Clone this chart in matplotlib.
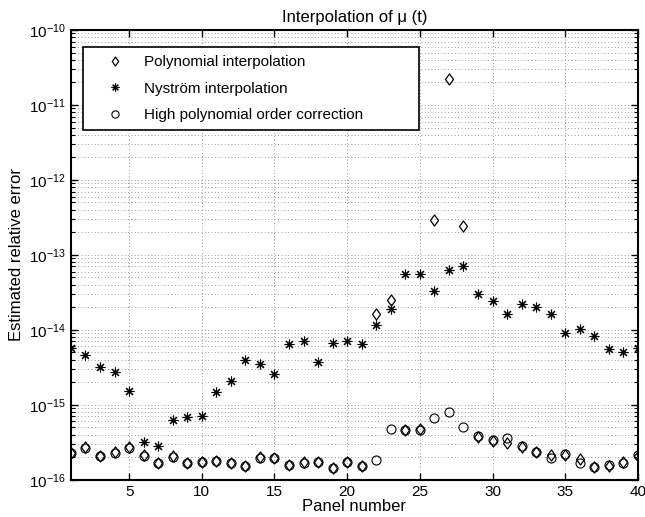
import numpy as np
import matplotlib
matplotlib.use("Agg")
import matplotlib.pyplot as plt
from matplotlib.ticker import NullFormatter, FixedLocator, LogFormatterSciNotation
from matplotlib.path import Path

plt.rcParams['font.family'] = ['Liberation Sans', 'DejaVu Sans']

panels = np.arange(1, 41)

# polynomial interpolation (diamonds)
poly = [2.3e-16, 2.7e-16, 2.1e-16, 2.35e-16, 2.7e-16, 2.15e-16, 1.65e-16, 2.05e-16,
        1.7e-16, 1.75e-16, 1.78e-16, 1.7e-16, 1.55e-16, 2.0e-16, 1.98e-16, 1.58e-16,
        1.72e-16, 1.74e-16, 1.42e-16, 1.72e-16, 1.55e-16, 1.65e-14, 2.5e-14, 4.6e-16,
        4.7e-16, 2.9e-13, 2.2e-11, 2.45e-13, 3.7e-16, 3.3e-16, 3.1e-16, 2.7e-16,
        2.35e-16, 2.15e-16, 2.15e-16, 1.9e-16, 1.48e-16, 1.55e-16, 1.75e-16, 2.1e-16]

# Nystrom interpolation (stars)
nystrom = [5.8e-15, 4.6e-15, 3.2e-15, 2.7e-15, 1.55e-15, 3.2e-16, 2.85e-16, 6.3e-16,
           6.8e-16, 7.0e-16, 1.5e-15, 2.05e-15, 4.0e-15, 3.5e-15, 2.6e-15, 6.5e-15,
           7.1e-15, 3.7e-15, 6.7e-15, 7.0e-15, 6.4e-15, 1.16e-14, 1.9e-14, 5.6e-14,
           5.5e-14, 3.3e-14, 6.2e-14, 7.1e-14, 3.0e-14, 2.4e-14, 1.63e-14, 2.2e-14,
           2.0e-14, 1.62e-14, 9.1e-15, 1.03e-14, 8.2e-15, 5.5e-15, 5.1e-15, 5.8e-15]

# high polynomial order correction (circles)
hpoc = [2.3e-16, 2.65e-16, 2.1e-16, 2.3e-16, 2.65e-16, 2.1e-16, 1.65e-16, 2.0e-16,
        1.68e-16, 1.74e-16, 1.78e-16, 1.68e-16, 1.55e-16, 1.98e-16, 1.95e-16, 1.58e-16,
        1.7e-16, 1.74e-16, 1.45e-16, 1.74e-16, 1.55e-16, 1.83e-16, 4.7e-16, 4.6e-16,
        4.6e-16, 6.6e-16, 8.1e-16, 5.1e-16, 3.8e-16, 3.4e-16, 3.6e-16, 2.8e-16,
        2.35e-16, 1.95e-16, 2.2e-16, 1.7e-16, 1.48e-16, 1.57e-16, 1.7e-16, 2.15e-16]

xticks = [5, 10, 15, 20, 25, 30, 35, 40]
decades = [1e-16, 1e-15, 1e-14, 1e-13, 1e-12, 1e-11, 1e-10]

# matlab-ish diamond, a bit narrower than it is tall
diamond = Path([(0, 1), (0.72, 0), (0, -1), (-0.72, 0), (0, 1)],
               [Path.MOVETO, Path.LINETO, Path.LINETO, Path.LINETO, Path.CLOSEPOLY])

fig = plt.figure(figsize=(6.45, 5.17), dpi=100)
ax = fig.add_axes([0.110, 0.072, 0.879, 0.870])

ax.semilogy(panels, poly, ls='none', marker=diamond, mfc='none', mec='k', ms=8,
            mew=0.9, label='Polynomial interpolation')
ax.semilogy(panels, nystrom, ls='none', marker=(8, 2, 0), color='k', ms=7, mew=0.8,
            label='Nyström interpolation')
ax.semilogy(panels, hpoc, ls='none', marker='o', mfc='none', mec='k', ms=6.5, mew=0.8,
            label='High polynomial order correction')

ax.set_xlim(1, 40)
ax.set_ylim(1e-16, 1e-10)
ax.xaxis.set_major_locator(FixedLocator(xticks))
ax.yaxis.set_major_locator(FixedLocator(decades))
ax.yaxis.set_major_formatter(LogFormatterSciNotation())
minor = [m * d for d in decades[:-1] for m in range(2, 10)]
ax.yaxis.set_minor_locator(FixedLocator(minor))
ax.yaxis.set_minor_formatter(NullFormatter())

ax.grid(True, which='major', axis='both', linestyle=(0, (1, 3)), color='#777777', lw=0.6)
ax.grid(True, which='minor', axis='y', linestyle=(0, (1, 3)), color='#777777', lw=0.6)
ax.tick_params(which='both', direction='in', top=True, right=True, labelsize=11)
ax.tick_params(which='major', length=5, width=1)
ax.tick_params(which='minor', length=3, width=0.8)
for s in ax.spines.values():
    s.set_linewidth(1.5)

ax.set_xlabel('Panel number', fontsize=12, labelpad=0)
ax.set_ylabel('Estimated relative error', fontsize=12)
ax.set_title('Interpolation of μ (t)', fontsize=12, pad=6)

leg = ax.legend(loc='upper left', bbox_to_anchor=(0.021, 0.780, 0.593, 0.182),
                mode='expand', borderaxespad=0, fontsize=11, frameon=True,
                fancybox=False, edgecolor='k', framealpha=1, borderpad=0.55,
                handlelength=3.1, handletextpad=0.35, labelspacing=0.8,
                markerscale=0.8)
leg.get_frame().set_linewidth(1.2)

fig.savefig('out.png', dpi=100)
